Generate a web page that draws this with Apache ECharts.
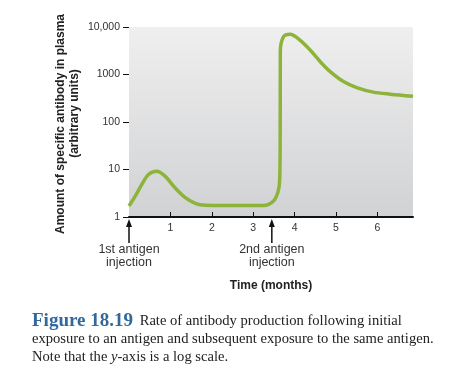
<!DOCTYPE html>
<html><head><meta charset="utf-8">
<script src="https://cdn.jsdelivr.net/npm/echarts@6/dist/echarts.min.js"></script>
<style>html,body{margin:0;padding:0;background:#fff}#c{width:450px;height:370px}</style>
</head><body><div id="c"></div>
<script>
// Time in months, antibody amount (arbitrary units, log scale)
const months = [0, 0.15, 0.31, 0.47, 0.67, 0.87, 1.11, 1.36, 1.60, 1.84, 2.32, 2.8, 3.25, 3.49, 3.6, 3.64, 3.652, 3.655, 3.73, 3.89, 4.13, 4.375, 4.62, 4.86, 5.18, 5.50, 5.90, 6.31, 6.86];
const antibody = [1.70, 2.75, 4.85, 7.85, 9.2, 7.24, 4.13, 2.55, 1.94, 1.76, 1.74, 1.74, 1.74, 2.17, 3.4, 6, 60, 3000, 6200, 7000, 5310, 3280, 1860, 1150, 710, 531, 426, 386, 350];
const xTicks = [1, 2, 3, 4, 5, 6];
const yTicks = [1, 10, 100, 1000, 10000];
const injectionMonths = [0, 3.45];
const injectionLabels = ['1st antigen\ninjection', '2nd antigen\ninjection'];

const chart = echarts.init(document.getElementById('c'));
const sans = 'Liberation Sans, Arial, sans-serif';
chart.setOption({
  animation: false,
  grid: {
    left: 129, right: 37, top: 27, bottom: 153, show: true, borderWidth: 0,
    backgroundColor: new echarts.graphic.LinearGradient(0, 0, 0, 1, [
      {offset: 0, color: '#efefef'}, {offset: 1, color: '#d1d2d4'}])
  },
  xAxis: {
    type: 'value', min: 0, max: 6.86, interval: 1,
    name: 'Time (months)', nameLocation: 'middle', nameGap: 63,
    nameTextStyle: {fontFamily: sans, fontWeight: 'bold', fontSize: 12, color: '#222'},
    axisLine: {show: true, lineStyle: {color: '#111', width: 2}},
    axisTick: {show: true, inside: true, length: 5, customValues: xTicks, lineStyle: {color: '#111', width: 1}},
    axisLabel: {customValues: xTicks, fontFamily: sans, fontSize: 10.5, color: '#333', margin: 6},
    splitLine: {show: false}
  },
  yAxis: {
    type: 'log', logBase: 10, min: 1, max: 10000,
    axisLine: {show: false},
    axisTick: {show: true, length: 6, customValues: yTicks, lineStyle: {color: '#111', width: 1}},
    axisLabel: {customValues: yTicks, fontFamily: sans, fontSize: 10.5, color: '#333', margin: 9,
      formatter: v => v >= 10000 ? v.toLocaleString('en-US') : String(v)},
    splitLine: {show: false}
  },
  series: [{
    type: 'line', data: months.map((m, i) => [m, antibody[i]]),
    smooth: 0.3, showSymbol: false, symbol: 'none',
    lineStyle: {color: '#8db33a', width: 3.5}
  }]
});

const g = [];
injectionMonths.forEach((m, i) => {
  const p = chart.convertToPixel({gridIndex: 0}, [m, 1]);
  g.push({type: 'line', shape: {x1: p[0], y1: p[1] + 7, x2: p[0], y2: p[1] + 26}, style: {stroke: '#111', lineWidth: 1.5}});
  g.push({type: 'polygon', shape: {points: [[p[0], p[1] + 2], [p[0] - 3, p[1] + 10], [p[0] + 3, p[1] + 10]]}, style: {fill: '#111'}});
  g.push({type: 'text', x: p[0], y: p[1] + 26, style: {text: injectionLabels[i], fontFamily: sans, fontSize: 12.5, lineHeight: 13, fill: '#333', align: 'center', verticalAlign: 'top'}});
});
g.push({type: 'text', x: 60.5, y: 124, rotation: Math.PI / 2, style: {text: 'Amount of specific antibody in plasma', fontFamily: sans, fontWeight: 'bold', fontSize: 12, fill: '#222', align: 'center', verticalAlign: 'middle'}});
g.push({type: 'text', x: 75, y: 113.5, rotation: Math.PI / 2, style: {text: '(arbitrary units)', fontFamily: sans, fontWeight: 'bold', fontSize: 12, fill: '#222', align: 'center', verticalAlign: 'middle'}});
const serif = 'Liberation Serif, Times New Roman, serif';
g.push({type: 'text', left: 32, top: 312, style: {
  text: '{f|Figure 18.19}  {t|Rate of antibody production following initial}\n{t|exposure to an antigen and subsequent exposure to the same antigen.}\n{t|Note that the }{i|y}{t|-axis is a log scale.}',
  rich: {
    f: {fontFamily: serif, fontSize: 19, fontWeight: 'bold', fill: '#33689c', lineHeight: 18},
    t: {fontFamily: serif, fontSize: 14.6, fill: '#222', lineHeight: 18},
    i: {fontFamily: serif, fontSize: 14.6, fontStyle: 'italic', fill: '#222', lineHeight: 18}
  }
}});
chart.setOption({graphic: g});
</script></body></html>
